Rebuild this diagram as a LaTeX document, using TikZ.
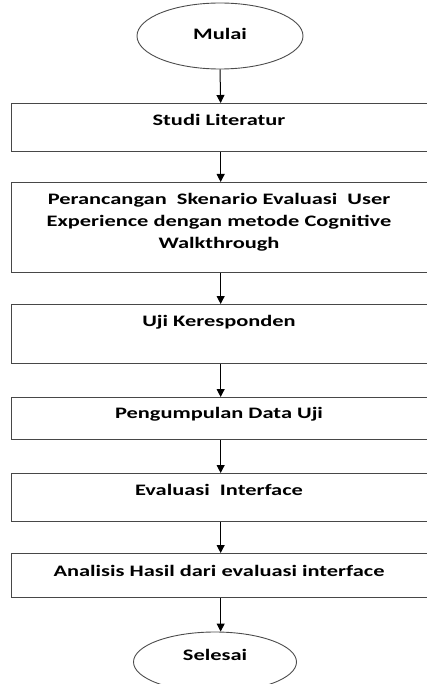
\documentclass[tikz,border=0pt]{standalone}
\usepackage{fontspec}
\newfontfamily\lbl{Carlito}[FakeStretch=1.4]
\usetikzlibrary{shapes.geometric,arrows.meta}
\begin{document}
\begin{tikzpicture}[x=1pt,y=-1pt,
  box/.style={draw=black!72, line width=1.3pt, rectangle, minimum width=418pt, inner sep=0pt, anchor=north west},
  term/.style={draw=black!70, line width=0.9pt, ellipse, minimum width=166pt, minimum height=66pt, inner sep=0pt},
  txt/.style={font=\lbl\bfseries\fontsize{16}{22}\selectfont, inner sep=0pt, anchor=base, align=center},
  arr/.style={draw=black, line width=1pt, -{Triangle[length=8pt,width=8pt]}}]
\useasboundingbox (0,0) rectangle (427,684);
\node[term] (m) at (220,36) {};
\node[txt] (mt) at (220,40) {Mulai};
\node[box, minimum height=48pt] (b1) at (11,103) {};
\node[txt] (t1) at (219,126) {Studi Literatur};
\node[box, minimum height=90pt] (b2) at (11,182) {};
\node[txt] (t2) at (219,249) {Perancangan\ \ Skenario Evaluasi\ \ User\\Experience dengan metode Cognitive\\Walkthrough};
\node[box, minimum height=59pt] (b3) at (11,304) {};
\node[txt] (t3) at (219,326) {Uji Keresponden};
\node[box, minimum height=42pt] (b4) at (11,397) {};
\node[txt] (t4) at (219,418) {Pengumpulan Data Uji};
\node[box, minimum height=48pt] (b5) at (11,473) {};
\node[txt] (t5) at (219,495) {Evaluasi\ \ Interface};
\node[box, minimum height=44pt] (b6) at (11,553) {};
\node[txt] (t6) at (219,576) {Analisis Hasil dari evaluasi interface};
\node[term, minimum width=163pt, minimum height=60pt] (s) at (215,662) {};
\node[txt] (st) at (215,660) {Selesai};
\draw[arr] (m.south) -- (b1.north);
\draw[arr] (b1.south) -- (b2.north);
\draw[arr] (b2.south) -- (b3.north);
\draw[arr] (b3.south) -- (b4.north);
\draw[arr] (b4.south) -- (b5.north);
\draw[arr] (b5.south) -- (b6.north);
\draw[arr] (b6.south) -- (b6.south |- s.north);
\end{tikzpicture}
\end{document}
